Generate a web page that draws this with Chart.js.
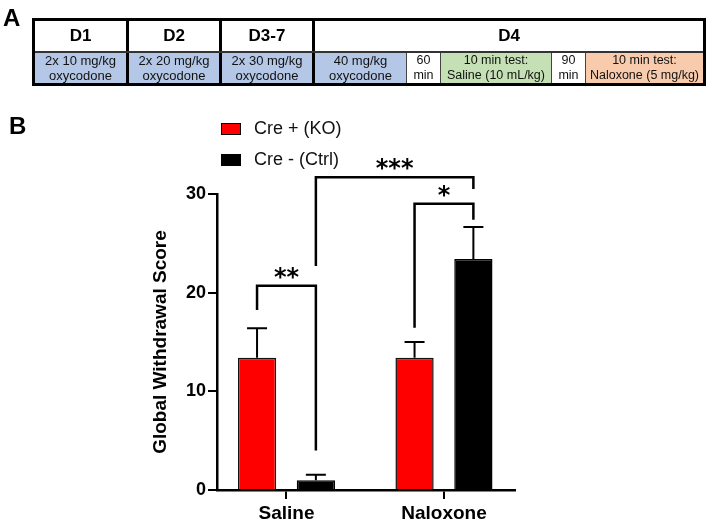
<!DOCTYPE html>
<html><head><meta charset="utf-8">
<script src="https://cdn.jsdelivr.net/npm/chart.js@4.4.1/dist/chart.umd.min.js"></script>
<style>
html,body{margin:0;padding:0;background:#fff;}
body{width:709px;height:522px;position:relative;overflow:hidden;font-family:Arial,"Liberation Sans",sans-serif;}
#c{position:absolute;left:0;top:0;}
.panel{position:absolute;font-weight:bold;font-size:24px;line-height:24px;color:#000;z-index:2;}
.cell{position:absolute;box-sizing:border-box;display:flex;align-items:center;justify-content:center;text-align:center;color:#111;z-index:2;white-space:nowrap;}
.hd{font-weight:bold;font-size:17px;color:#000;}
.sm{font-size:12.5px;line-height:15px;}
.sm13{font-size:13px;line-height:15px;}
.ln{position:absolute;background:#000;z-index:3;}
</style>
</head><body>
<canvas id="c" width="709" height="522"></canvas>

<div class="panel" style="left:3px;top:6px;">A</div>
<div class="panel" style="left:9px;top:114px;">B</div>

<!-- schedule row fills -->
<div class="cell sm13" style="left:35px;top:53px;width:91px;height:30px;background:#b4c7e7;">2x 10 mg/kg<br>oxycodone</div>
<div class="cell sm13" style="left:129px;top:53px;width:90px;height:30px;background:#b4c7e7;">2x 20 mg/kg<br>oxycodone</div>
<div class="cell sm13" style="left:222px;top:53px;width:90px;height:30px;background:#b4c7e7;">2x 30 mg/kg<br>oxycodone</div>
<div class="cell sm13" style="left:315px;top:53px;width:91px;height:30px;background:#b4c7e7;">40 mg/kg<br>oxycodone</div>
<div class="cell sm" style="left:407px;top:53px;width:33px;height:30px;background:#fff;">60<br>min</div>
<div class="cell sm" style="left:441px;top:53px;width:110px;height:30px;background:#c5e0b4;">10 min test:<br>Saline (10 mL/kg)</div>
<div class="cell sm" style="left:552px;top:53px;width:33px;height:30px;background:#fff;">90<br>min</div>
<div class="cell sm" style="left:586px;top:53px;width:117px;height:30px;background:#f8cbad;">10 min test:<br>Naloxone (5 mg/kg)</div>

<!-- header cells -->
<div class="cell hd" style="left:35px;top:21px;width:91px;height:30px;">D1</div>
<div class="cell hd" style="left:129px;top:21px;width:90px;height:30px;">D2</div>
<div class="cell hd" style="left:222px;top:21px;width:90px;height:30px;">D3-7</div>
<div class="cell hd" style="left:315px;top:21px;width:388px;height:30px;">D4</div>

<!-- lines -->
<div class="ln" style="left:32px;top:18px;width:674px;height:3px;"></div>
<div class="ln" style="left:32px;top:83px;width:674px;height:3px;"></div>
<div class="ln" style="left:32px;top:18px;width:3px;height:68px;"></div>
<div class="ln" style="left:703px;top:18px;width:3px;height:68px;"></div>
<div class="ln" style="left:126px;top:18px;width:3px;height:68px;"></div>
<div class="ln" style="left:219px;top:18px;width:3px;height:68px;"></div>
<div class="ln" style="left:312px;top:18px;width:3px;height:68px;"></div>
<div class="ln" style="left:35px;top:51px;width:668px;height:2px;background:#333;"></div>
<div class="ln" style="left:406px;top:53px;width:1px;height:30px;background:#444;"></div>
<div class="ln" style="left:440px;top:53px;width:1px;height:30px;background:#444;"></div>
<div class="ln" style="left:551px;top:53px;width:1px;height:30px;background:#444;"></div>
<div class="ln" style="left:585px;top:53px;width:1px;height:30px;background:#444;"></div>

<script>
// ---- data ----
const categories = ['Saline', 'Naloxone'];
const seriesLabels = ['Cre + (KO)', 'Cre - (Ctrl)'];
const koMeans = [13.4, 13.4];
const koSEM = [3.0, 1.6];
const ctrlMeans = [1.0, 23.4];
const ctrlSEM = [0.55, 3.25];
const yTickValues = [0, 10, 20, 30];
const yAxisTitle = 'Global Withdrawal Score';
// significance brackets: endpoints refer to [category, series]; heights in data units
const sigLabels = ['**', '***', '*'];
const sigLeft = [[0, 0], [0, 1], [1, 0]];
const sigRight = [[0, 1], [1, 1], [1, 1]];
const sigTop = [20.7, 31.7, 29.0];
const sigLeftEnd = [18.25, 22.7, 16.45];
const sigRightEnd = [4.0, 30.5, 27.4];

const seriesColors = ['#ff0000', '#000000'];

const toPoints = arr => arr.map((v, i) => ({x: i, y: v}));
const errors = [koSEM, ctrlSEM];

const errorBarPlugin = {
  id: 'errorBars',
  afterDatasetsDraw(chart) {
    const ctx = chart.ctx, ys = chart.scales.y;
    ctx.save();
    ctx.strokeStyle = '#000';
    ctx.lineWidth = 2;
    chart.data.datasets.forEach((ds, di) => {
      const meta = chart.getDatasetMeta(di);
      meta.data.forEach((el, i) => {
        const v = ds.data[i].y, e = errors[di][i];
        const yTop = ys.getPixelForValue(v + e);
        ctx.beginPath();
        ctx.moveTo(el.x, el.y);
        ctx.lineTo(el.x, yTop);
        ctx.moveTo(el.x - 10, yTop);
        ctx.lineTo(el.x + 10, yTop);
        ctx.stroke();
      });
    });
    ctx.restore();
  }
};

const annotPlugin = {
  id: 'annot',
  afterDraw(chart) {
    const ctx = chart.ctx, ys = chart.scales.y;
    ctx.save();
    ctx.strokeStyle = '#000';
    ctx.fillStyle = '#000';
    ctx.lineWidth = 2.5;
    ctx.lineJoin = 'miter';
    sigLabels.forEach((lab, k) => {
      const xl = chart.getDatasetMeta(sigLeft[k][1]).data[sigLeft[k][0]].x;
      const xr = chart.getDatasetMeta(sigRight[k][1]).data[sigRight[k][0]].x;
      const yt = ys.getPixelForValue(sigTop[k]);
      ctx.beginPath();
      ctx.moveTo(xl, ys.getPixelForValue(sigLeftEnd[k]));
      ctx.lineTo(xl, yt);
      ctx.lineTo(xr, yt);
      ctx.lineTo(xr, ys.getPixelForValue(sigRightEnd[k]));
      ctx.stroke();
      ctx.font = 'bold 24px "DejaVu Sans"';
      ctx.textAlign = 'center';
      ctx.textBaseline = 'alphabetic';
      ctx.fillText(lab, (xl + xr) / 2, yt - 1);
    });
    // legend
    ctx.font = '18px Arial, "Liberation Sans"';
    ctx.textAlign = 'left';
    ctx.textBaseline = 'middle';
    chart.data.datasets.forEach((ds, i) => {
      const bx = 221, by = 123 + i * 31;
      ctx.fillStyle = ds.backgroundColor;
      ctx.fillRect(bx, by, 20, 12);
      ctx.lineWidth = 1;
      ctx.strokeStyle = '#000';
      ctx.strokeRect(bx + 0.5, by + 0.5, 19, 11);
      ctx.fillStyle = '#111';
      ctx.fillText(ds.label, 254, by + 6.5);
    });
    ctx.restore();
  }
};

new Chart(document.getElementById('c'), {
  type: 'bar',
  data: {
    datasets: [
      {label: seriesLabels[0], data: toPoints(koMeans), backgroundColor: seriesColors[0], borderColor: '#111', borderWidth: 1.5},
      {label: seriesLabels[1], data: toPoints(ctrlMeans), backgroundColor: seriesColors[1], borderColor: '#000', borderWidth: 1.5}
    ]
  },
  options: {
    responsive: false,
    animation: false,
    devicePixelRatio: 1,
    categoryPercentage: 0.747,
    barPercentage: 0.65,
    layout: {padding: {left: 145, top: 194, right: 194, bottom: 0}},
    plugins: {legend: {display: false}, tooltip: {enabled: false}, title: {display: false}},
    scales: {
      x: {
        type: 'linear',
        min: -0.441,
        max: 1.451,
        offset: false,
        afterBuildTicks: s => { s.ticks = categories.map((c, i) => ({value: i})); },
        afterFit: s => { s.height = 32; },
        grid: {display: true, offset: false, drawOnChartArea: false, drawTicks: true, tickLength: 9, color: '#000', lineWidth: 2},
        border: {display: true, color: '#000', width: 2.5},
        ticks: {
          autoSkip: false, maxRotation: 0, padding: 3,
          color: '#000', font: {family: 'Arial, "Liberation Sans"', size: 19, weight: 'bold'},
          callback: v => categories[v] ?? ''
        }
      },
      y: {
        min: 0, max: 30,
        afterBuildTicks: s => { s.ticks = yTickValues.map(v => ({value: v})); },
        afterFit: s => { s.width = 72; },
        grid: {display: true, drawOnChartArea: false, drawTicks: true, tickLength: 9, color: '#000', lineWidth: 2},
        border: {display: true, color: '#000', width: 2.5},
        ticks: {padding: 2, color: '#000', font: {family: 'Arial, "Liberation Sans"', size: 18, weight: 'bold'}},
        title: {display: true, text: yAxisTitle, color: '#000', padding: {top: 4, bottom: 4},
                font: {family: 'Arial, "Liberation Sans"', size: 19, weight: 'bold'}}
      }
    }
  },
  plugins: [errorBarPlugin, annotPlugin]
});
</script>
</body></html>
